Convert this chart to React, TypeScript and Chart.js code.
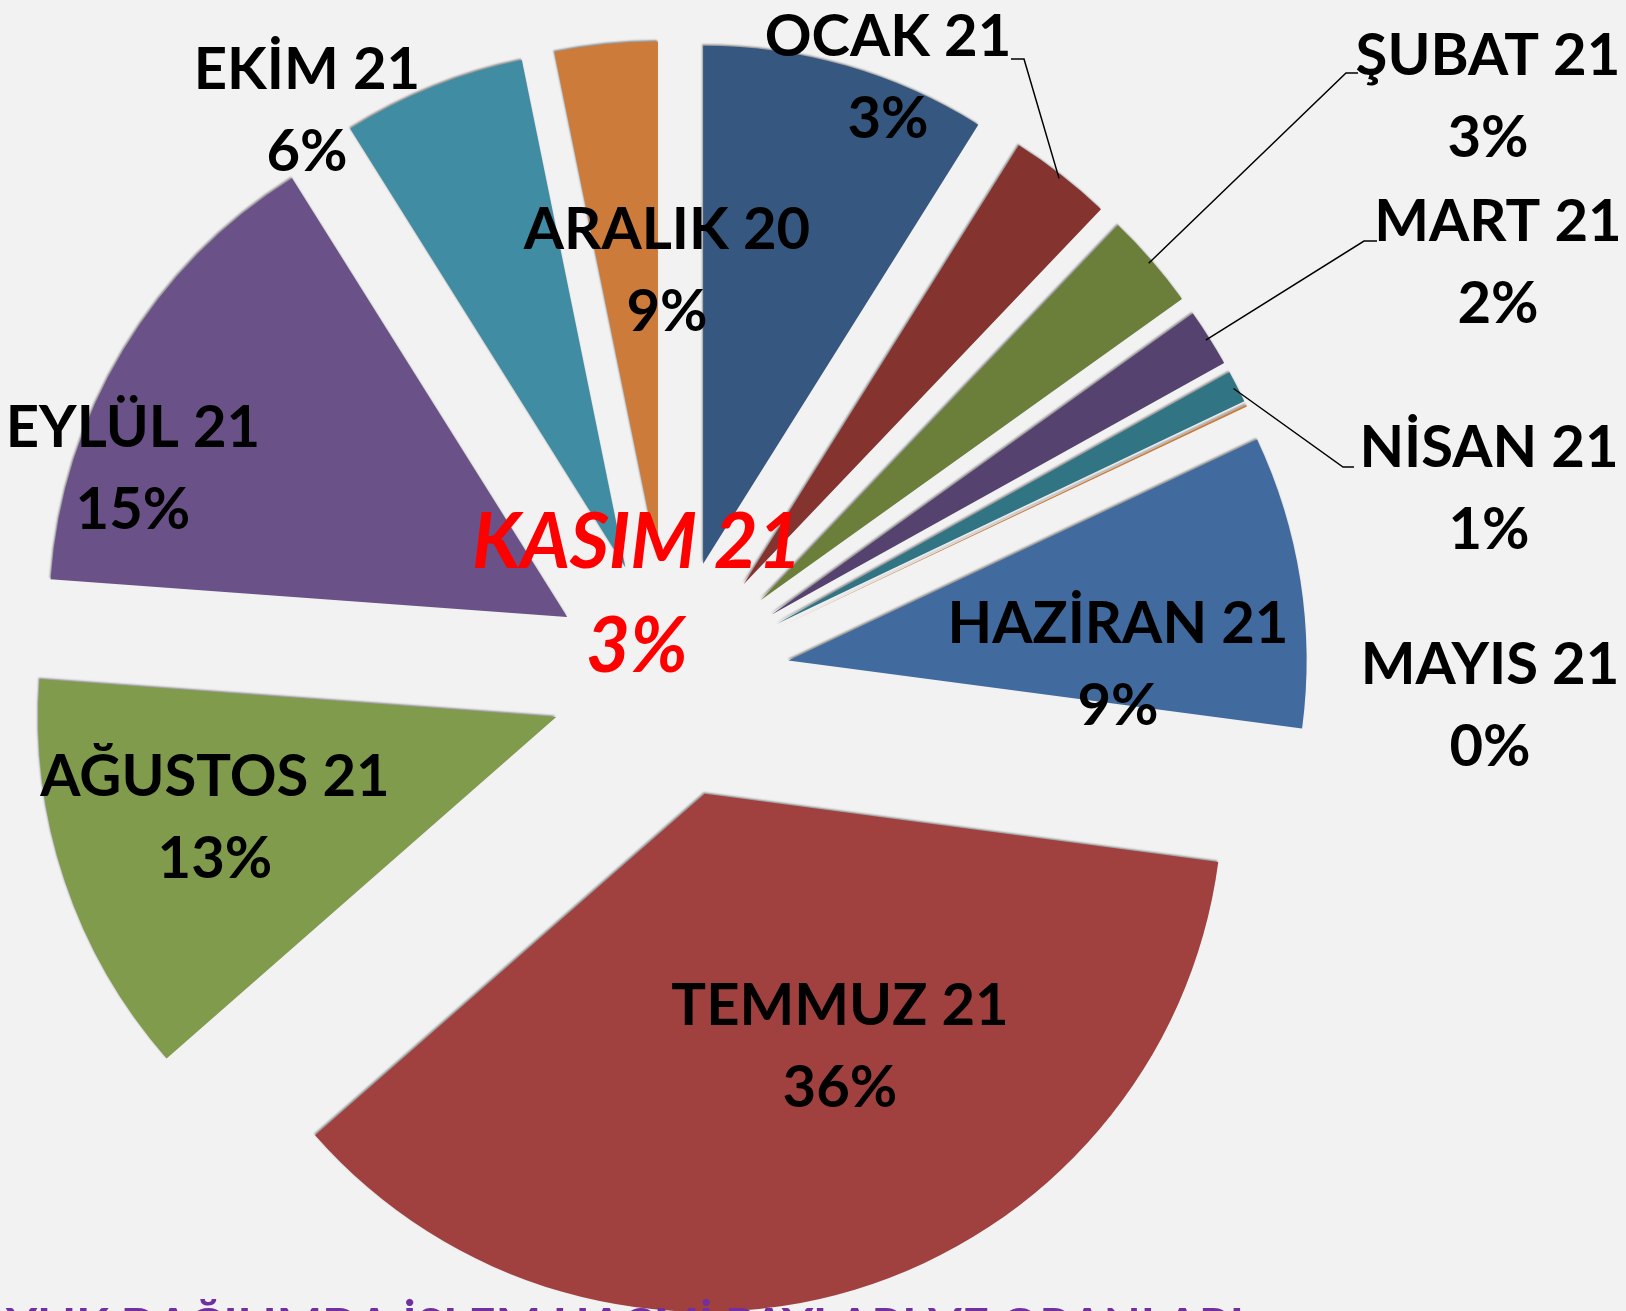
import React, { useEffect, useRef } from 'react';
import { Chart, registerables } from 'chart.js';

Chart.register(...registerables);

// ---- data ----
const months = [
  'ARALIK 20', 'OCAK 21', 'ŞUBAT 21', 'MART 21', 'NİSAN 21', 'MAYIS 21',
  'HAZİRAN 21', 'TEMMUZ 21', 'AĞUSTOS 21', 'EYLÜL 21', 'EKİM 21', 'KASIM 21',
];
const shares = [8.9, 3.2, 3.0, 1.8, 1.0, 0.06, 9.1, 36.4, 12.6, 14.9, 5.7, 3.2];
const sliceColors = [
  '#36577F', '#84332F', '#6B7F3B', '#56426E', '#317584', '#CD7A3A',
  '#416A9E', '#A04140', '#7F9B4B', '#6A5288', '#408DA3', '#CD7B3A',
];
const highlightIndex = 11;
const titleText = 'AYLIK DAĞILIMDA İŞLEM HACMİ PAYLARI VE ORANLARI';

// ---- layout (relative to pie centre) ----
const labelOffsets: number[][] = [
  [-3, -451], [218, -644], [818, -625], [828, -459], [819, -233], [820, -16],
  [448, -57], [170, 325], [-455, 96], [-537, -253], [-363, -611], [-33, -138],
];
const leaderTicks: (number[] | null)[] = [
  null, [341, -620, 354, -620], [688, -606, 676, -606], [707, -438, 694, -438],
  [684, -212, 673, -212], null, null, null, null, null, null, null,
];

const EXPLODE = 120;
const RADIUS = 518;
const FONT = 'Lato, "Open Sans", sans-serif';
const LABEL_SIZE = 58;
const LABEL_GAP = 82;
const HL_SIZE = 76;
const HL_GAP = 104;
const CAP = 0.7165;

const piePlugin = {
  id: 'piePlugin',
  beforeDraw(chart: any) {
    const { ctx, width, height } = chart;
    ctx.save();
    ctx.fillStyle = '#f2f2f2';
    ctx.fillRect(0, 0, width, height);
    ctx.restore();
  },
  beforeDatasetDraw(chart: any, args: any) {
    const ctx = chart.ctx;
    args.meta.data.forEach((arc: any) => {
      const p = arc.getProps(['startAngle', 'endAngle'], true);
      const half = (p.startAngle + p.endAngle) / 2;
      ctx.save();
      ctx.translate(Math.cos(half) * EXPLODE, Math.sin(half) * EXPLODE);
      ctx.shadowColor = 'rgba(0,0,0,0.4)';
      ctx.shadowBlur = 2;
      ctx.shadowOffsetX = -1;
      ctx.shadowOffsetY = -1.5;
      arc.draw(ctx);
      ctx.restore();
    });
    return false;
  },
  afterDatasetsDraw(chart: any) {
    const ctx = chart.ctx;
    const meta = chart.getDatasetMeta(0);
    const c = meta.data[0].getProps(['x', 'y'], true);
    const cx = c.x;
    const cy = c.y;
    const total = shares.reduce((a, b) => a + b, 0);

    ctx.save();
    ctx.strokeStyle = '#000';
    ctx.lineWidth = 1.5;
    meta.data.forEach((arc: any, i: number) => {
      const t = leaderTicks[i];
      if (!t) return;
      const p = arc.getProps(['startAngle', 'endAngle', 'outerRadius'], true);
      const half = (p.startAngle + p.endAngle) / 2;
      const r = EXPLODE + p.outerRadius - 4;
      ctx.beginPath();
      ctx.moveTo(cx + t[0], cy + t[1]);
      ctx.lineTo(cx + t[2], cy + t[3]);
      ctx.lineTo(cx + Math.cos(half) * r, cy + Math.sin(half) * r);
      ctx.stroke();
    });

    ctx.textAlign = 'center';
    ctx.textBaseline = 'alphabetic';
    months.forEach((m, i) => {
      const pct = Math.round((shares[i] / total) * 100) + '%';
      const [dx, dy] = labelOffsets[i];
      const hl = i === highlightIndex;
      const size = hl ? HL_SIZE : LABEL_SIZE;
      const gap = hl ? HL_GAP : LABEL_GAP;
      ctx.font = (hl ? 'italic ' : '') + 'bold ' + size + 'px ' + FONT;
      ctx.fillStyle = hl ? '#FF0000' : '#000000';
      const base = cy + dy + (size * CAP) / 2;
      ctx.fillText(m, cx + dx, base);
      ctx.fillText(pct, cx + dx, base + gap);
    });

    // cut-off title at the bottom edge
    ctx.font = 'bold 48px ' + FONT;
    ctx.fillStyle = '#7030A0';
    ctx.textAlign = 'left';
    const pre = titleText.slice(0, titleText.indexOf('Ğ'));
    const gW = ctx.measureText('Ğ').width;
    const startX = 207 - ctx.measureText(pre).width - gW / 2;
    ctx.fillText(titleText, startX, chart.height + 32);
    ctx.restore();
  },
};

export default function App() {
  const ref = useRef<HTMLCanvasElement | null>(null);
  useEffect(() => {
    if (!ref.current) return;
    const chart = new Chart(ref.current, {
      type: 'pie',
      data: {
        labels: months,
        datasets: [
          {
            data: shares,
            backgroundColor: sliceColors,
            borderWidth: 0,
            radius: RADIUS,
          } as any,
        ],
      },
      options: {
        animation: false,
        responsive: false,
        devicePixelRatio: 1,
        events: [],
        layout: { padding: { left: 0, right: 286, top: 47, bottom: 0 } },
        plugins: { legend: { display: false }, tooltip: { enabled: false }, title: { display: false } },
      },
      plugins: [piePlugin],
    });
    let alive = true;
    if ((document as any).fonts) {
      Promise.all([
        (document as any).fonts.load('bold 58px Lato'),
        (document as any).fonts.load('italic bold 76px Lato'),
      ]).then(() => { if (alive) chart.draw(); }).catch(() => {});
    }
    return () => { alive = false; chart.destroy(); };
  }, []);
  return (
    <div style={{ position: 'absolute', left: 0, top: 0, width: 1626, height: 1311, overflow: 'hidden' }}>
      <canvas ref={ref} width={1626} height={1311} style={{ display: 'block' }} />
    </div>
  );
}
